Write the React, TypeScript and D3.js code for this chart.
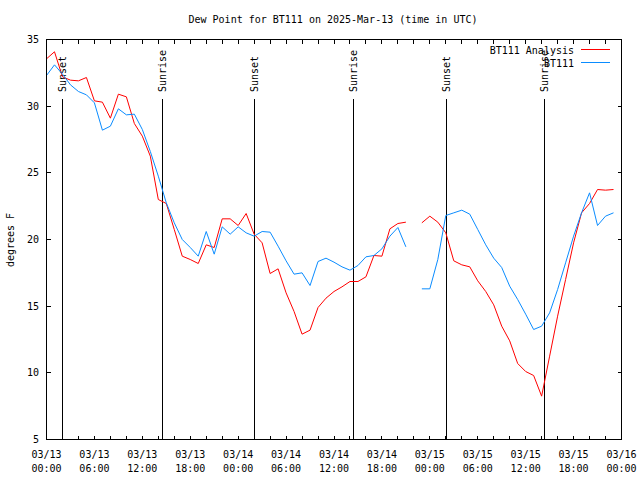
import React from "react";
import * as d3 from "d3";

const START = "2025-03-13T00:00:00Z";
const END = "2025-03-16T00:00:00Z";

// hourly values, 03/13 00:00 UTC onward (null = missing)
const analysis: (number | null)[] = [
  33.55, 34.08, 32.2, 31.95, 31.9, 32.15, 30.4, 30.3, 29.1, 30.9, 30.7, 28.7,
  27.75, 26.25, 23.0, 22.7, 20.75, 18.75, 18.5, 18.2, 19.6, 19.4, 21.55, 21.55,
  21.05, 21.95, 20.4, 19.75, 17.45, 17.8, 16.0, 14.6, 12.9, 13.2, 14.9, 15.6,
  16.1, 16.45, 16.85, 16.85, 17.2, 18.8, 18.75, 20.8, 21.2, 21.3, null, 21.25,
  21.75, 21.3, 20.5, 18.4, 18.1, 17.95, 16.9, 16.1, 15.1, 13.5, 12.4, 10.7,
  10.1, 9.8, 8.25, 11.25, 14.25, 17.0, 19.75, 22.0, 22.7, 23.75, 23.7, 23.75,
];

const observed: (number | null)[] = [
  32.3, 33.1, 32.4, 31.6, 31.1, 30.85, 30.25, 28.2, 28.5, 29.8, 29.35, 29.4,
  28.25, 26.6, 24.75, 22.75, 21.25, 20.0, 19.4, 18.75, 20.6, 18.9, 20.95, 20.4,
  20.95, 20.5, 20.25, 20.6, 20.55, 19.5, 18.4, 17.4, 17.5, 16.55, 18.35, 18.6,
  18.3, 17.95, 17.7, 18.05, 18.7, 18.8, 19.3, 20.25, 20.9, 19.45, null, 16.3,
  16.3, 18.5, 21.8, 22.0, 22.2, 21.9, 20.75, 19.6, 18.6, 17.9, 16.5, 15.5,
  14.4, 13.25, 13.5, 14.5, 16.25, 18.25, 20.25, 22.0, 23.5, 21.05, 21.75, 22.0,
];

const sunTimes = [
  "2025-03-13T02:00:00Z",
  "2025-03-13T14:30:00Z",
  "2025-03-14T02:00:00Z",
  "2025-03-14T14:25:00Z",
  "2025-03-15T02:05:00Z",
  "2025-03-15T14:20:00Z",
];
const sunLabels = ["Sunset", "Sunrise", "Sunset", "Sunrise", "Sunset", "Sunrise"];

const yTicks = [5, 10, 15, 20, 25, 30, 35];
const seriesNames = ["BT111 Analysis", "BT111"];
const seriesColors = ["#ff0000", "#0a8cff"];

const FONT = "'DejaVu Sans Mono', monospace";

export default function App() {
  const start = new Date(START);
  const end = new Date(END);
  const times = analysis.map((_, i) => d3.utcHour.offset(start, i));

  const x = d3.scaleUtc().domain([start, end]).range([46.5, 621.5]);
  const y = d3.scaleLinear().domain([5, 35]).range([439.5, 39.5]);

  const line = d3
    .line<number | null>()
    .defined((d) => d != null)
    .x((_, i) => x(times[i]))
    .y((d) => y(d as number));

  const minorTicks = d3.utcHour.every(2)!.range(start, d3.utcHour.offset(end, 1));
  const majorTicks = d3.utcHour.every(6)!.range(start, d3.utcHour.offset(end, 1));
  const fmtDate = d3.utcFormat("%m/%d");
  const fmtTime = d3.utcFormat("%H:%M");

  const [x0, x1] = x.range();
  const [yb, yt] = y.range();

  return (
    <svg
      width={640}
      height={480}
      style={{ position: "fixed", left: 0, top: 0, background: "#fff" }}
      fontFamily={FONT}
      fontSize={10}
    >
      <rect x={0} y={0} width={640} height={480} fill="#fff" />
      <text x={333} y={23} textAnchor="middle" fill="#000">
        Dew Point for BT111 on 2025-Mar-13 (time in UTC)
      </text>

      {/* y label */}
      <text
        transform={`translate(10,240) rotate(-90)`}
        textAnchor="middle"
        dy="0.35em"
        fill="#000"
      >
        degrees F
      </text>

      {/* ticks */}
      <g stroke="#000" strokeWidth={1} shapeRendering="crispEdges">
        {yTicks.map((t) => (
          <g key={"y" + t}>
            <line x1={x0} x2={x0 + 4} y1={y(t)} y2={y(t)} />
            <line x1={x1} x2={x1 - 4} y1={y(t)} y2={y(t)} />
          </g>
        ))}
        {minorTicks.map((t) => (
          <g key={"x" + t.getTime()}>
            <line x1={x(t)} x2={x(t)} y1={yb} y2={yb - 4} />
            <line x1={x(t)} x2={x(t)} y1={yt} y2={yt + 4} />
          </g>
        ))}
      </g>

      {yTicks.map((t) => (
        <text key={"yl" + t} x={39} y={y(t)} dy="0.35em" textAnchor="end" fill="#000">
          {t}
        </text>
      ))}
      {majorTicks.map((t) => (
        <g key={"xl" + t.getTime()}>
          <text x={x(t)} y={458} textAnchor="middle" fill="#000">
            {fmtDate(t)}
          </text>
          <text x={x(t)} y={472} textAnchor="middle" fill="#000">
            {fmtTime(t)}
          </text>
        </g>
      ))}

      {/* sunrise / sunset markers */}
      {sunTimes.map((s, i) => {
        const sx = Math.round(x(new Date(s))) + 0.5;
        return (
          <g key={"sun" + i}>
            <line
              x1={sx}
              x2={sx}
              y1={99}
              y2={yb}
              stroke="#000"
              strokeWidth={1}
              shapeRendering="crispEdges"
            />
            <text
              transform={`translate(${sx},92) rotate(-90)`}
              textAnchor="start"
              dy="0.35em"
              fill="#000"
            >
              {sunLabels[i]}
            </text>
          </g>
        );
      })}

      {/* data */}
      <path d={line(analysis) || ""} fill="none" stroke={seriesColors[0]} strokeWidth={1} />
      <path d={line(observed) || ""} fill="none" stroke={seriesColors[1]} strokeWidth={1} />

      {/* legend */}
      {seriesNames.map((n, i) => (
        <g key={"lg" + i}>
          <text x={574} y={54 + i * 13} textAnchor="end" fill="#000">
            {n}
          </text>
          <line
            x1={581}
            x2={610}
            y1={49.5 + i * 13}
            y2={49.5 + i * 13}
            stroke={seriesColors[i]}
            strokeWidth={1}
            shapeRendering="crispEdges"
          />
        </g>
      ))}

      {/* border */}
      <rect
        x={x0}
        y={yt}
        width={x1 - x0}
        height={yb - yt}
        fill="none"
        stroke="#000"
        strokeWidth={1}
        shapeRendering="crispEdges"
      />
    </svg>
  );
}
